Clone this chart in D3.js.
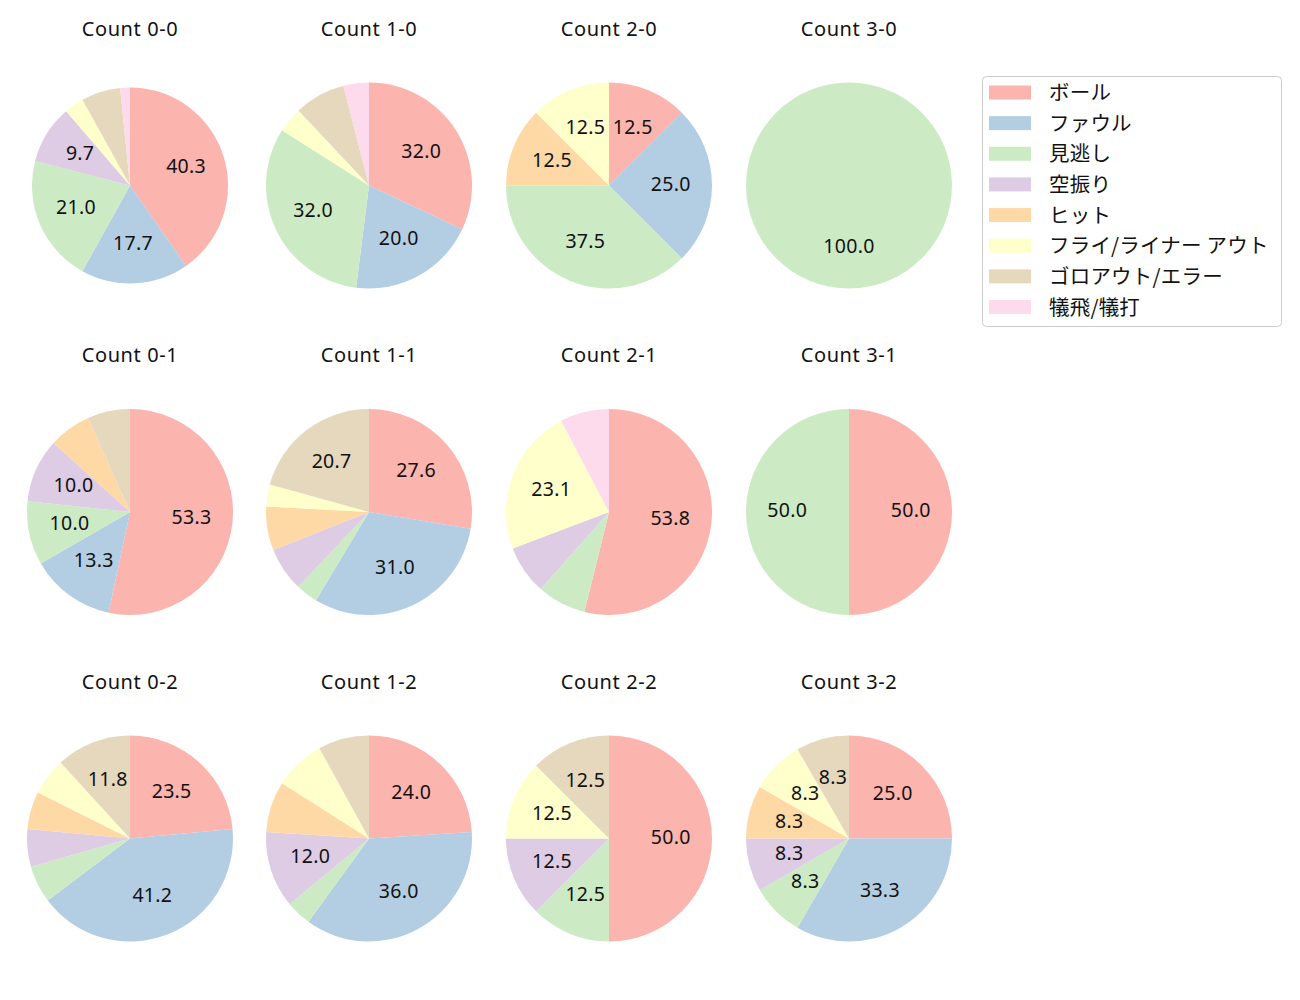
<!DOCTYPE html>
<html>
<head>
<meta charset="utf-8">
<script src="https://cdn.jsdelivr.net/npm/d3@7"></script>
<style>
  html, body { margin: 0; padding: 0; background: #fff; }
  svg text { font-family: "Noto Sans", "Noto Sans CJK JP", sans-serif; fill: #111; }
  svg text.jp { font-family: "Noto Sans CJK JP", "Noto Sans", sans-serif; }
</style>
</head>
<body>
<svg id="chart" width="1300" height="1000"></svg>
<script>
// ---- Data ----
const categories = ["ボール", "ファウル", "見逃し", "空振り", "ヒット", "フライ/ライナー アウト", "ゴロアウト/エラー", "犠飛/犠打"];
const colors = ["#fbb4ae", "#b3cde3", "#ccebc5", "#decbe4", "#fed9a6", "#ffffcc", "#e5d8bd", "#fddaec"];
const panelTitles = ["Count 0-0", "Count 1-0", "Count 2-0", "Count 3-0",
                     "Count 0-1", "Count 1-1", "Count 2-1", "Count 3-1",
                     "Count 0-2", "Count 1-2", "Count 2-2", "Count 3-2"];
const count00 = [25, 11, 13, 6, 0, 2, 4, 1];
const count10 = [8, 5, 8, 0, 0, 1, 2, 1];
const count20 = [1, 2, 3, 0, 1, 1, 0, 0];
const count30 = [0, 0, 1, 0, 0, 0, 0, 0];
const count01 = [16, 4, 3, 3, 2, 0, 2, 0];
const count11 = [8, 9, 1, 2, 2, 1, 6, 0];
const count21 = [7, 0, 1, 1, 0, 3, 0, 1];
const count31 = [1, 0, 1, 0, 0, 0, 0, 0];
const count02 = [4, 7, 1, 1, 1, 1, 2, 0];
const count12 = [6, 9, 1, 3, 2, 2, 2, 0];
const count22 = [4, 0, 1, 1, 0, 1, 1, 0];
const count32 = [3, 4, 1, 1, 1, 1, 1, 0];
const panelValues = [count00, count10, count20, count30,
                     count01, count11, count21, count31,
                     count02, count12, count22, count32];
const labelThreshold = 8.1; // percent labels shown above this

// ---- Layout ----
const colX = [130, 369, 609, 849];
const rowY = [185.5, 512, 838.5];
const baseRadius = 103;
const radiusOverride = { 0: 98 };
const fontSize = 19.5;
const legendFont = 20.5;

const svg = d3.select("#chart");
const pie = d3.pie().sort(null).value(d => d).startAngle(0).endAngle(2 * Math.PI);

panelValues.forEach((vals, i) => {
  const col = i % 4, row = Math.floor(i / 4);
  const cx = colX[col], cy = rowY[row];
  const r = radiusOverride[i] !== undefined ? radiusOverride[i] : baseRadius;
  const total = d3.sum(vals);
  const arc = d3.arc().innerRadius(0).outerRadius(r);
  const g = svg.append("g").attr("transform", `translate(${cx},${cy})`);
  const arcs = pie(vals).map((a, k) => ({...a, k})).filter(a => a.value > 0);
  g.selectAll("path").data(arcs).join("path")
    .attr("d", arc)
    .attr("fill", d => colors[d.k]);
  g.selectAll("text.lbl").data(arcs.filter(a => a.value / total * 100 > labelThreshold)).join("text")
    .attr("class", "lbl")
    .attr("x", d => 0.6 * r * Math.sin((d.startAngle + d.endAngle) / 2))
    .attr("y", d => -0.6 * r * Math.cos((d.startAngle + d.endAngle) / 2) + 0.357 * fontSize - 1.5)
    .attr("text-anchor", "middle")
    .style("font-size", fontSize + "px")
    .style("letter-spacing", "0.3px")
    .text(d => (d.value / total * 100).toFixed(1));
  svg.append("text")
    .attr("x", cx).attr("y", cy - 150)
    .attr("text-anchor", "middle")
    .style("font-size", (fontSize + 0.5) + "px")
    .style("letter-spacing", "0.6px")
    .text(panelTitles[i]);
});

// ---- Legend ----
const lg = svg.append("g");
lg.append("rect")
  .attr("x", 982.5).attr("y", 76.5).attr("width", 299).attr("height", 250)
  .attr("rx", 4).attr("fill", "#fff").attr("fill-opacity", 0.8)
  .attr("stroke", "#cccccc").attr("stroke-width", 1);
const legendY = d3.scaleLinear().domain([0, categories.length - 1]).range([92.5, 307]);
categories.forEach((c, k) => {
  lg.append("rect")
    .attr("x", 989).attr("y", legendY(k) - 7).attr("width", 42).attr("height", 14)
    .attr("fill", colors[k]);
  lg.append("text")
    .attr("class", "jp")
    .attr("x", 1049).attr("y", legendY(k) - 1.5)
    .attr("dominant-baseline", "central")
    .style("font-size", legendFont + "px")
    .style("letter-spacing", "0.2px")
    .text(c);
});
</script>
</body>
</html>
